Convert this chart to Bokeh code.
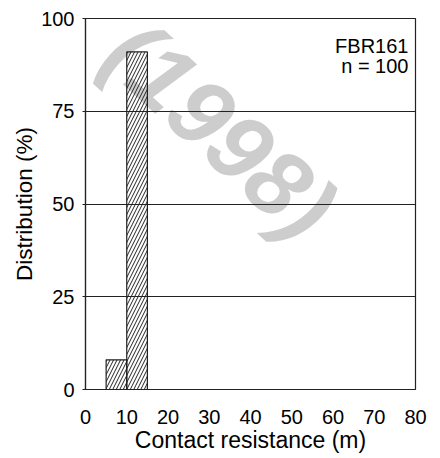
from bokeh.plotting import figure
from bokeh.models import Range1d, FixedTicker
from bokeh.core.properties import value
from bokeh.embed import file_html
from bokeh.resources import INLINE

# Data
bin_left = [5, 10]
bin_right = [10, 15]
distribution = [8, 91]
x_ticks = [0, 10, 20, 30, 40, 50, 60, 70, 80]
y_ticks = [0, 25, 50, 75, 100]
sample_name = "FBR161"
sample_n = "n = 100"
watermark = "(1998)"
x_title = "Contact resistance (m)"
y_title = "Distribution (%)"

FONT = "Liberation Sans"

p = figure(width=440, height=458, output_backend="svg", toolbar_location=None,
           x_range=Range1d(0, 80), y_range=Range1d(0, 100),
           min_border_left=85, min_border_right=25, min_border_top=18,
           min_border_bottom=69)
p.background_fill_color = "white"
p.border_fill_color = "white"
p.outline_line_color = "#222222"
p.outline_line_width = 1.2

# watermark
p.text(x=[32.8], y=[70], text=[watermark], angle=-0.74,
       text_align="center", text_baseline="middle",
       text_font=value(FONT), text_font_style="bold italic",
       text_font_size="94px", text_color="#cdcdcd", level="image")

# bars
p.quad(left=bin_left, right=bin_right, bottom=0, top=distribution,
       fill_color=None, line_color="#222222", line_width=1.2,
       hatch_pattern="/", hatch_color="#222222", hatch_scale=7, hatch_weight=1)

# annotation text
p.text(x=[78.3], y=[92.5], text=[sample_name], text_align="right",
       text_baseline="alphabetic", text_font=value(FONT),
       text_font_size="20px", text_color="black")
p.text(x=[78.3], y=[87.3], text=[sample_n], text_align="right",
       text_baseline="alphabetic", text_font=value(FONT),
       text_font_size="20px", text_color="black")

# grids
p.xgrid.visible = False
p.ygrid.ticker = FixedTicker(ticks=y_ticks)
p.ygrid.grid_line_color = "#222222"
p.ygrid.grid_line_width = 1.2

# axes
p.xaxis.ticker = FixedTicker(ticks=x_ticks)
p.yaxis.ticker = FixedTicker(ticks=y_ticks)
for ax in (p.xaxis[0], p.yaxis[0]):
    ax.axis_line_color = "#222222"
    ax.axis_line_width = 1.2
    ax.major_label_text_font = FONT
    ax.major_label_text_font_size = "20px"
    ax.major_label_text_color = "black"
    ax.axis_label_text_font = FONT
    ax.axis_label_text_font_style = "normal"
    ax.axis_label_text_color = "black"
    ax.minor_tick_line_color = None

p.xaxis.major_tick_line_color = None
p.xaxis.major_tick_out = 0
p.xaxis.major_tick_in = 0
p.xaxis.major_label_standoff = 20
p.xaxis.axis_label = x_title
p.xaxis.axis_label_text_font_size = "23px"
p.xaxis.axis_label_standoff = 0

p.yaxis.major_tick_line_color = "#222222"
p.yaxis.major_tick_out = 3
p.yaxis.major_tick_in = 0
p.yaxis.major_label_standoff = 8
p.yaxis.axis_label = y_title
p.yaxis.axis_label_text_font_size = "22.5px"
p.yaxis.axis_label_standoff = 1

open("out.html", "w").write(file_html(p, INLINE))
